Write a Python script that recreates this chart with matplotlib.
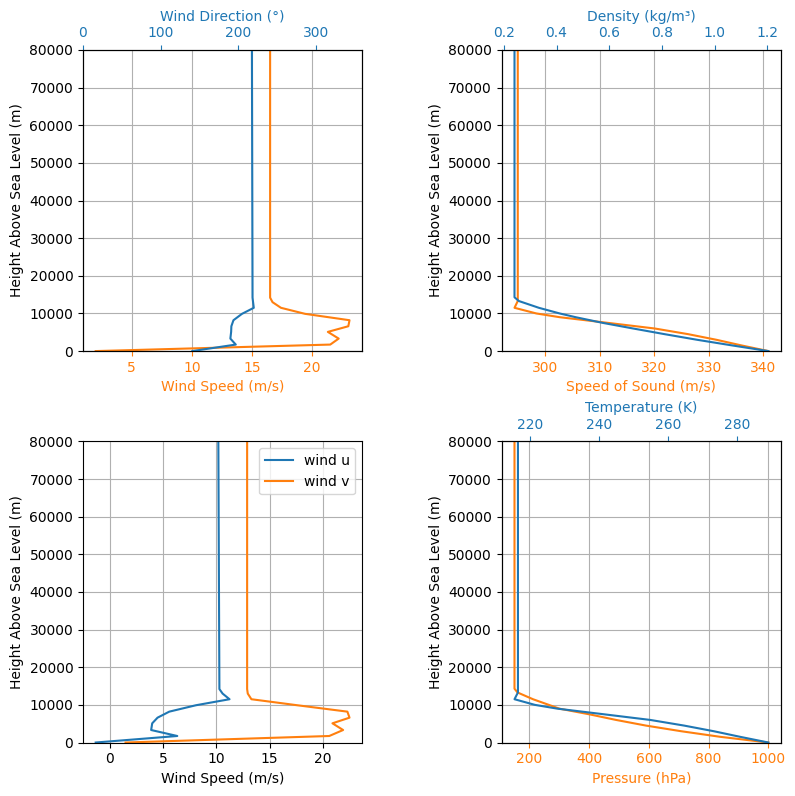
import matplotlib.pyplot as plt

# wind profile
wind_alt = [0, 1730, 3320, 5100, 6600, 8200, 9900, 11500, 13000, 14200, 80000]
wind_u = [-1.3, 6.35, 3.9, 4.0, 4.5, 5.6, 8.1, 11.25, 10.6, 10.3, 10.2]
wind_v = [1.5, 20.6, 21.9, 20.9, 22.5, 22.3, 17.6, 13.3, 12.96, 12.9, 12.9]
wind_speed = [2.0, 21.5, 22.2, 21.3, 23.0, 23.1, 19.4, 17.4, 16.7, 16.5, 16.5]
wind_direction = [141, 197, 190, 191, 191.3, 194, 205, 220.2, 219.3, 218.6, 217.8]

# thermodynamic profile
thermo_alt = [0, 1500, 3000, 4500, 6000, 7500, 9000, 10000, 11500, 13300, 14300, 80000]
temperature = [289.1, 281.0, 273.3, 264.7, 254.9, 241.5, 228.0, 221.5, 215.6, 216.6, 216.6, 216.6]
speed_of_sound = [340.9, 336.0, 331.4, 326.2, 320.1, 311.5, 302.7, 298.4, 294.4, 295.0, 295.0, 295.0]
density = [1.204, 1.067, 0.934, 0.810, 0.691, 0.575, 0.473, 0.412, 0.333, 0.257, 0.2405, 0.2405]
pressure = [1000, 840, 708, 590, 490, 400, 300, 265, 212, 160, 150, 150]

BLUE = "#1f77b4"
ORANGE = "#ff7f0e"

fig = plt.figure(figsize=(7.95, 7.96), dpi=100)

# wind speed / direction
ax1 = plt.subplot(221)
ax1.plot(wind_speed, wind_alt, color=ORANGE)
ax1.set_xlabel("Wind Speed (m/s)", color=ORANGE)
ax1.tick_params("x", colors=ORANGE)
ax1up = ax1.twiny()
ax1up.plot(wind_direction, wind_alt, color=BLUE)
ax1up.set_xlabel("Wind Direction (°)", color=BLUE)
ax1up.tick_params("x", colors=BLUE)
ax1up.set_xlim(0, 360)
ax1.set_ylabel("Height Above Sea Level (m)")
ax1.set_ylim(0, 80000)
ax1.grid(True)

# speed of sound / density
ax2 = plt.subplot(222)
ax2.plot(speed_of_sound, thermo_alt, color=ORANGE)
ax2.set_xlabel("Speed of Sound (m/s)", color=ORANGE)
ax2.tick_params("x", colors=ORANGE)
ax2up = ax2.twiny()
ax2up.plot(density, thermo_alt, color=BLUE)
ax2up.set_xlabel("Density (kg/m³)", color=BLUE)
ax2up.tick_params("x", colors=BLUE)
ax2.set_ylabel("Height Above Sea Level (m)")
ax2.set_ylim(0, 80000)
ax2.grid(True)

# wind components
ax3 = plt.subplot(223)
ax3.plot(wind_u, wind_alt, label="wind u")
ax3.plot(wind_v, wind_alt, label="wind v")
ax3.legend(loc="upper right")
ax3.set_ylabel("Height Above Sea Level (m)")
ax3.set_xlabel("Wind Speed (m/s)")
ax3.set_ylim(0, 80000)
ax3.grid(True)

# pressure / temperature
ax4 = plt.subplot(224)
ax4.plot(pressure, thermo_alt, color=ORANGE)
ax4.set_xlabel("Pressure (hPa)", color=ORANGE)
ax4.tick_params("x", colors=ORANGE)
ax4up = ax4.twiny()
ax4up.plot(temperature, thermo_alt, color=BLUE)
ax4up.set_xlabel("Temperature (K)", color=BLUE)
ax4up.tick_params("x", colors=BLUE)
ax4.set_ylabel("Height Above Sea Level (m)")
ax4.set_ylim(0, 80000)
ax4.grid(True)

plt.subplots_adjust(left=0.1044, right=0.9824, bottom=0.0672, top=0.9372,
                    wspace=0.5, hspace=0.3)
plt.savefig("out.png", dpi=100)
